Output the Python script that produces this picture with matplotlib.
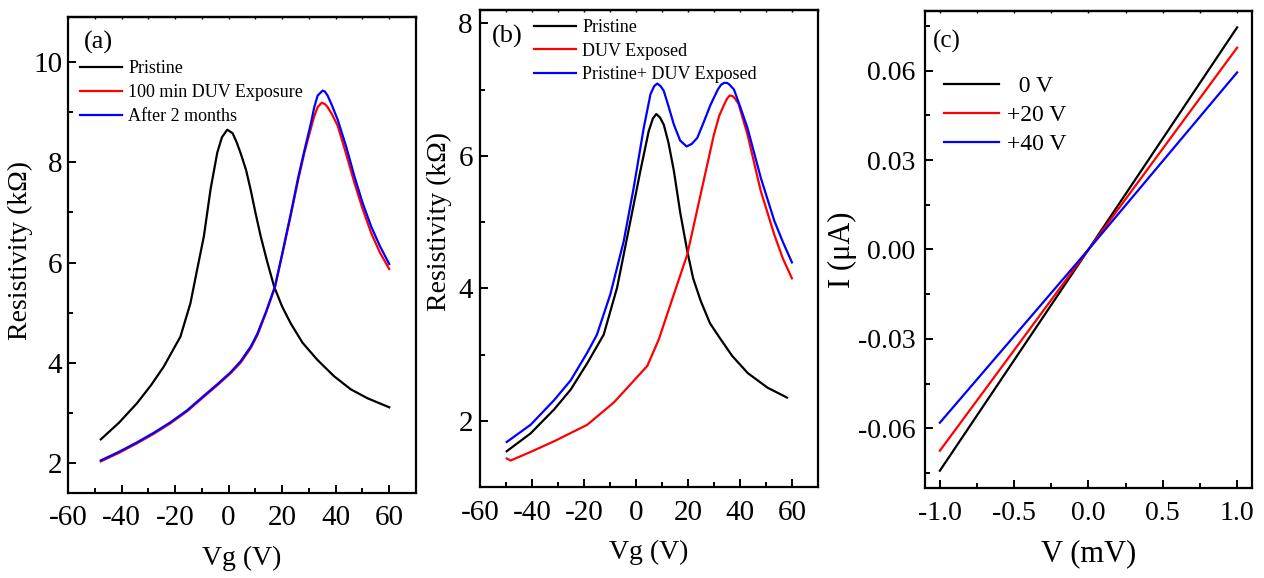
import numpy as np
import matplotlib.pyplot as plt
from matplotlib.ticker import MultipleLocator

plt.rcParams['font.family'] = ['Liberation Serif', 'DejaVu Serif']
plt.rcParams['axes.unicode_minus'] = False

# ---- panel (a): resistivity vs gate voltage ----
a_vg_pristine = [-47.75, -41, -34.25, -29, -24.25, -18, -14.25, -11.75, -9.25, -6.75,
                 -4.25, -2.5, -0.5, 1.5, 3, 4.5, 6.5, 8.25, 10, 12, 14.5, 17, 20,
                 23.25, 27.6, 33.1, 39.4, 45.6, 51.9, 60]
a_r_pristine = [2.47, 2.8, 3.19, 3.55, 3.92, 4.52, 5.19, 5.86, 6.52, 7.46,
                8.19, 8.5, 8.65, 8.58, 8.4, 8.18, 7.85, 7.45, 7.0, 6.52, 6.0, 5.52, 5.12,
                4.78, 4.4, 4.06, 3.73, 3.47, 3.29, 3.11]

a_vg_duv = [-47.75, -41, -34.25, -28, -21.75, -15.5, -9.25, -4, 0.75, 4.5, 8.25,
            10.75, 14, 17.3, 20, 23.25, 26, 28.25, 30.75, 32, 33.25, 34.8, 36, 37,
            38.5, 40.75, 44, 47, 50, 53.25, 56.5, 60]
a_r_duv = [2.03, 2.2, 2.39, 2.58, 2.79, 3.03, 3.32, 3.56, 3.79, 4.0, 4.29,
           4.55, 5.0, 5.5, 6.15, 6.95, 7.65, 8.18, 8.68, 8.92, 9.1, 9.19, 9.16, 9.1,
           8.97, 8.73, 8.15, 7.59, 7.08, 6.59, 6.2, 5.87]

a_vg_2m = [-47.75, -41, -34.25, -28, -21.75, -15.5, -9.25, -4, 0.75, 4.5, 8.25,
           10.75, 14, 17.3, 20, 23.25, 26, 28.25, 30.75, 32, 33.25, 35.1, 36, 37,
           38.5, 40.75, 44, 47, 50, 53.25, 56.5, 60]
a_r_2m = [2.05, 2.22, 2.41, 2.6, 2.81, 3.05, 3.34, 3.58, 3.81, 4.03, 4.32,
          4.58, 5.02, 5.52, 6.17, 6.98, 7.7, 8.22, 8.78, 9.1, 9.33, 9.43, 9.41, 9.33,
          9.15, 8.85, 8.3, 7.72, 7.2, 6.72, 6.33, 5.97]

# ---- panel (b) ----
b_vg_pristine = [-49.7, -40.5, -31.5, -25.1, -18.7, -12.4, -7.25, -2.1, 1.7, 4.9,
                 6.5, 7.8, 9.2, 10.7, 12.5, 14.6, 17, 19.75, 22, 24.9, 28.5, 32.6,
                 37, 43, 50.6, 58.1]
b_r_pristine = [1.54, 1.81, 2.17, 2.47, 2.87, 3.3, 4.01, 5.02, 5.77, 6.37,
                6.56, 6.63, 6.58, 6.47, 6.2, 5.77, 5.15, 4.56, 4.15, 3.81, 3.47, 3.23,
                2.98, 2.72, 2.5, 2.35]

b_vg_duv = [-49.7, -48.2, -40.5, -31.5, -18.7, -8.4, -0.7, 4.4, 8.8, 14.6, 19.75,
            24.9, 30, 32, 33.9, 35, 36.1, 37.2, 38.2, 39.5, 42.9, 48, 53.2, 56.5, 60]
b_r_duv = [1.43, 1.40, 1.53, 1.69, 1.94, 2.28, 2.61, 2.83, 3.23, 3.91, 4.51,
           5.42, 6.32, 6.6, 6.77, 6.86, 6.91, 6.9, 6.86, 6.78, 6.32, 5.47, 4.81, 4.45,
           4.15]

b_vg_sum = [-49.7, -40.5, -31.5, -25.1, -18.7, -15, -9.84, -4.7, -0.85, 3.0, 5.6,
            7, 8.2, 9.5, 10.7, 12.5, 14.6, 17, 19.5, 21.5, 23.6, 26, 28.7, 31.5,
            32.7, 33.9, 35, 35.8, 37.7, 40, 42.9, 48, 53.2, 56.5, 60]
b_r_sum = [1.68, 1.94, 2.31, 2.61, 3.03, 3.3, 3.91, 4.71, 5.52, 6.42, 6.93,
           7.05, 7.09, 7.05, 6.98, 6.75, 6.47, 6.23, 6.14, 6.18, 6.27, 6.5, 6.77, 7.0,
           7.07, 7.1, 7.1, 7.08, 7.0, 6.75, 6.42, 5.67, 5.02, 4.7, 4.39]

# ---- panel (c): I-V ----
c_v = [-1.0, 0.0, 1.0]
c_i_0v = [-0.0742, 0.0, 0.0745]
c_i_20v = [-0.0675, 0.0, 0.0677]
c_i_40v = [-0.0581, 0.0, 0.0594]

fig = plt.figure(figsize=(12.64, 5.78), dpi=100)
ax_a = fig.add_axes([0.0538, 0.1471, 0.2753, 0.8235])
ax_b = fig.add_axes([0.3797, 0.1574, 0.2674, 0.8253])
ax_c = fig.add_axes([0.7318, 0.1557, 0.2587, 0.8253])

lw = 1.6


def style(ax, tsize, ypad):
    for s in ax.spines.values():
        s.set_linewidth(1.6)
    ax.tick_params(which='both', direction='in', labelsize=tsize, width=1.4,
                   top=False, right=False)
    ax.tick_params(which='major', length=6)
    ax.tick_params(which='minor', length=3.5)
    ax.tick_params(axis='x', which='major', pad=9)
    ax.tick_params(axis='y', which='major', pad=ypad)
    sec = ax.secondary_xaxis('top')
    sec.tick_params(which='both', direction='in', length=1.5, width=1,
                    labeltop=False)
    sec.set_xticks(ax.get_xticks(minor=True), minor=True)
    sec.set_xticks(ax.get_xticks())
    sec.set_xticklabels([])
    sec.spines['top'].set_linewidth(1.6)


# (a)
ax_a.plot(a_vg_pristine, a_r_pristine, color='black', lw=lw, label='Pristine')
ax_a.plot(a_vg_duv, a_r_duv, color='red', lw=lw, label='100 min DUV Exposure')
ax_a.plot(a_vg_2m, a_r_2m, color='blue', lw=lw, label='After 2 months')
ax_a.set_xlim(-60, 70)
ax_a.set_ylim(1.4, 10.9)
ax_a.xaxis.set_major_locator(MultipleLocator(20))
ax_a.xaxis.set_minor_locator(MultipleLocator(10))
ax_a.yaxis.set_major_locator(MultipleLocator(2))
ax_a.yaxis.set_minor_locator(MultipleLocator(1))
ax_a.set_xlabel('Vg (V)', fontsize=20, labelpad=10)
ax_a.set_ylabel('Resistivity (k\u03a9)', fontsize=20)
ax_a.yaxis.set_label_coords(-0.10, 0.51)
ax_a.text(0.045, 0.97, '(a)', transform=ax_a.transAxes, fontsize=19,
          va='top', ha='left')
ax_a.legend(loc='upper left', bbox_to_anchor=(0.015, 0.925), frameon=False,
            fontsize=13, handlelength=2.3, handletextpad=0.35,
            labelspacing=0.4, borderaxespad=0)
style(ax_a, 21, 4)

# (b)
ax_b.plot(b_vg_pristine, b_r_pristine, color='black', lw=lw, label='Pristine')
ax_b.plot(b_vg_duv, b_r_duv, color='red', lw=lw, label='DUV Exposed')
ax_b.plot(b_vg_sum, b_r_sum, color='blue', lw=lw, label='Pristine+ DUV Exposed')
ax_b.set_xlim(-60, 70)
ax_b.set_ylim(1.0, 8.2)
ax_b.xaxis.set_major_locator(MultipleLocator(20))
ax_b.xaxis.set_minor_locator(MultipleLocator(10))
ax_b.yaxis.set_major_locator(MultipleLocator(2))
ax_b.yaxis.set_minor_locator(MultipleLocator(1))
ax_b.set_xlabel('Vg (V)', fontsize=20, labelpad=10)
ax_b.set_ylabel('Resistivity (k\u03a9)', fontsize=20)
ax_b.yaxis.set_label_coords(-0.083, 0.556)
ax_b.text(0.035, 0.968, '(b)', transform=ax_b.transAxes, fontsize=19,
          va='top', ha='left')
ax_b.legend(loc='upper left', bbox_to_anchor=(0.14, 0.996), frameon=False,
            fontsize=13, handlelength=2.3, handletextpad=0.35,
            labelspacing=0.36, borderaxespad=0)
style(ax_b, 21, 5)

# (c)
ax_c.plot(c_v, c_i_0v, color='black', lw=lw, label='  0 V')
ax_c.plot(c_v, c_i_20v, color='red', lw=lw, label='+20 V')
ax_c.plot(c_v, c_i_40v, color='blue', lw=lw, label='+40 V')
ax_c.set_xlim(-1.1, 1.1)
ax_c.set_ylim(-0.08, 0.08)
ax_c.xaxis.set_major_locator(MultipleLocator(0.5))
ax_c.xaxis.set_minor_locator(MultipleLocator(0.25))
ax_c.yaxis.set_major_locator(MultipleLocator(0.03))
ax_c.yaxis.set_minor_locator(MultipleLocator(0.015))
ax_c.xaxis.set_major_formatter(lambda x, pos: f'{x:.1f}')
ax_c.yaxis.set_major_formatter(lambda y, pos: f'{y:.2f}')
ax_c.set_xlabel('V (mV)', fontsize=22, labelpad=10)
ax_c.set_ylabel('I (\u03bcA)', fontsize=22)
ax_c.yaxis.set_label_coords(-0.208, 0.50)
ax_c.text(0.025, 0.96, '(c)', transform=ax_c.transAxes, fontsize=18,
          va='top', ha='left')
ax_c.legend(loc='upper left', bbox_to_anchor=(0.03, 0.885), frameon=False,
            fontsize=17, handlelength=2.3, handletextpad=0.35,
            labelspacing=0.33, borderaxespad=0)
style(ax_c, 20, 7)

fig.savefig('out.png', dpi=100)
